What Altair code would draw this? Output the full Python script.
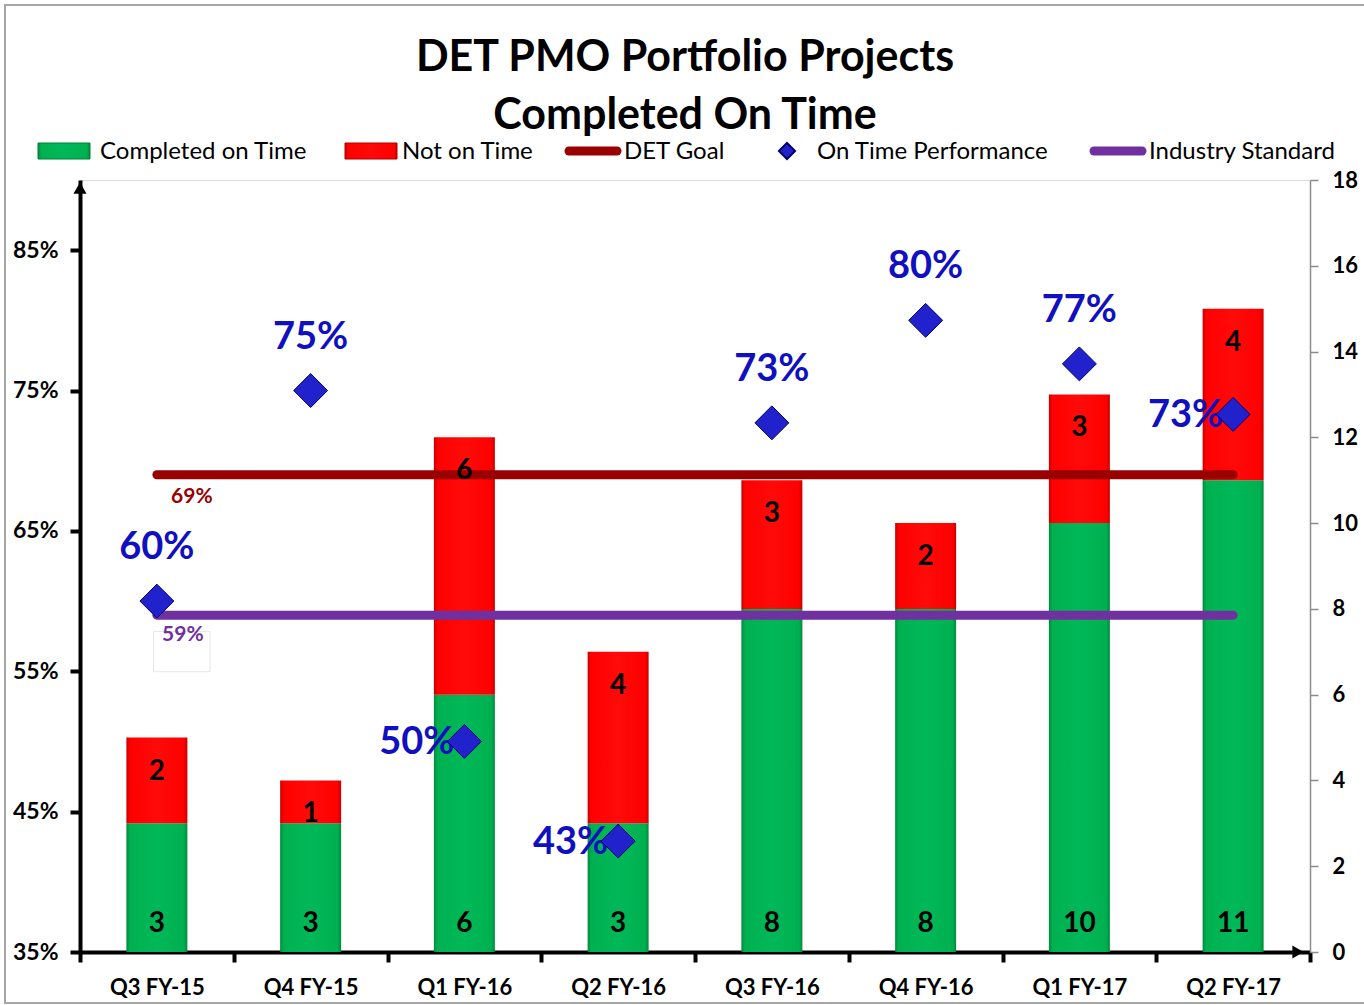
import altair as alt
import pandas as pd

# ---------------- data ----------------
quarters = ["Q3 FY-15", "Q4 FY-15", "Q1 FY-16", "Q2 FY-16",
            "Q3 FY-16", "Q4 FY-16", "Q1 FY-17", "Q2 FY-17"]
completed = [3, 3, 6, 3, 8, 8, 10, 11]
not_on_time = [2, 1, 6, 4, 3, 2, 3, 4]
performance = [0.60, 0.75, 0.50, 0.429, 0.727, 0.80, 0.769, 0.733]
perf_labels = ["60%", "75%", "50%", "43%", "73%", "80%", "77%", "73%"]
det_goal = 0.69
industry_standard = 0.59
left_labelled = ["Q1 FY-16", "Q2 FY-16", "Q2 FY-17"]
title_lines = ["DET PMO Portfolio Projects", "Completed On Time"]

bars_df = pd.DataFrame({"quarter": quarters, "completed": completed,
                        "not_on_time": not_on_time})
bars_df["total"] = bars_df["completed"] + bars_df["not_on_time"]
bars_df["base"] = 0
perf_df = pd.DataFrame({"quarter": quarters, "perf": performance, "label": perf_labels})
goal_df = pd.DataFrame({"quarter": [quarters[0], quarters[-1]], "v": [det_goal, det_goal]})
std_df = pd.DataFrame({"quarter": [quarters[0], quarters[-1]],
                       "v": [industry_standard, industry_standard]})

FONT = "Lato"
W, H = 1230, 772

x_axis = alt.Axis(title=None, labelAngle=0, labelFont=FONT, labelFontSize=22,
                  labelFontWeight="bold", labelColor="black", domainColor="black",
                  domainWidth=4, tickColor="black", tickWidth=4, tickSize=10,
                  tickBand="extent", labelPadding=15, grid=False)
x_enc = alt.X("quarter:N", sort=quarters,
              scale=alt.Scale(paddingInner=0, paddingOuter=0), axis=x_axis)


def cnt_scale():
    return alt.Scale(domain=[0, 18], nice=False, zero=True)


def pct_scale():
    return alt.Scale(domain=[0.35, 0.90], nice=False, zero=False)


right_axis = alt.Axis(orient="right", title=None, values=list(range(0, 19, 2)),
                      labelFont=FONT, labelFontSize=22, labelFontWeight="bold",
                      labelColor="black", domainColor="#8c8c8c", domainWidth=1.5,
                      tickColor="#8c8c8c", tickWidth=1.5, tickSize=8,
                      labelPadding=14, grid=False)
left_axis = alt.Axis(orient="left", title=None, format=".0%",
                     values=[0.35, 0.45, 0.55, 0.65, 0.75, 0.85],
                     labelFont=FONT, labelFontSize=23, labelFontWeight="bold",
                     labelColor="black", domainColor="black", domainWidth=4,
                     tickColor="black", tickWidth=4, tickSize=10,
                     labelPadding=12, grid=False)

green_grad = alt.Gradient(gradient="linear", x1=0, x2=1, y1=0, y2=0, stops=[
    alt.GradientStop(color="#008a3c", offset=0),
    alt.GradientStop(color="#00b050", offset=0.06),
    alt.GradientStop(color="#00b858", offset=0.5),
    alt.GradientStop(color="#00b050", offset=0.94),
    alt.GradientStop(color="#008a3c", offset=1)])
red_grad = alt.Gradient(gradient="linear", x1=0, x2=1, y1=0, y2=0, stops=[
    alt.GradientStop(color="#c80000", offset=0),
    alt.GradientStop(color="#ff0000", offset=0.06),
    alt.GradientStop(color="#ff0a0a", offset=0.5),
    alt.GradientStop(color="#ff0000", offset=0.94),
    alt.GradientStop(color="#c80000", offset=1)])

base_bars = alt.Chart(bars_df)
green_bars = base_bars.mark_bar(size=61, fill=green_grad).encode(
    x=x_enc,
    y=alt.Y("completed:Q", scale=cnt_scale(), axis=right_axis),
    y2="base:Q")
red_bars = base_bars.mark_bar(size=61, fill=red_grad).encode(
    x=x_enc,
    y=alt.Y("total:Q", scale=cnt_scale(), axis=None),
    y2="completed:Q")

green_text = base_bars.mark_text(font=FONT, fontSize=28, fontWeight="bold",
                                 color="black", baseline="middle", dy=-28).encode(
    x=x_enc, y=alt.Y("base:Q", scale=cnt_scale(), axis=None), text="completed:Q")
red_text = base_bars.mark_text(font=FONT, fontSize=28, fontWeight="bold",
                               color="black", baseline="middle", dy=34).encode(
    x=x_enc, y=alt.Y("total:Q", scale=cnt_scale(), axis=None), text="not_on_time:Q")

goal_line = alt.Chart(goal_df).mark_line(color="#990000", strokeWidth=9,
                                         strokeCap="round").encode(
    x=x_enc, y=alt.Y("v:Q", scale=pct_scale(), axis=left_axis))
std_line = alt.Chart(std_df).mark_line(color="#7030a0", strokeWidth=9,
                                       strokeCap="round").encode(
    x=x_enc, y=alt.Y("v:Q", scale=pct_scale(), axis=None))

goal_text = alt.Chart(goal_df.iloc[:1]).mark_text(
    font=FONT, fontSize=21, fontWeight="bold", color="#990000",
    align="center", baseline="middle", dx=35, dy=22).encode(
    x=x_enc, y=alt.Y("v:Q", scale=pct_scale(), axis=None), text=alt.value("69%"))
std_box = alt.Chart(std_df.iloc[:1]).mark_point(
    shape="M-0.12,0.58 L1.88,0.58 L1.88,2 L-0.12,2 Z", size=3200, filled=True,
    fill="white", stroke="#e8e8e8", strokeWidth=1, opacity=1).encode(
    x=x_enc, y=alt.Y("v:Q", scale=pct_scale(), axis=None))
std_text = alt.Chart(std_df.iloc[:1]).mark_text(
    font=FONT, fontSize=21, fontWeight="bold", color="#7030a0",
    align="center", baseline="middle", dx=26, dy=20).encode(
    x=x_enc, y=alt.Y("v:Q", scale=pct_scale(), axis=None), text=alt.value("59%"))

perf_base = alt.Chart(perf_df)
perf_above = perf_base.transform_filter(
    ~alt.FieldOneOfPredicate(field="quarter", oneOf=left_labelled)).mark_text(
    font=FONT, fontSize=38, fontWeight="bold", color="#1010c0",
    align="center", baseline="middle", dy=-53).encode(
    x=x_enc, y=alt.Y("perf:Q", scale=pct_scale(), axis=None), text="label:N")
perf_left = perf_base.transform_filter(
    alt.FieldOneOfPredicate(field="quarter", oneOf=left_labelled)).mark_text(
    font=FONT, fontSize=38, fontWeight="bold", color="#1010c0",
    align="right", baseline="middle", dx=-10, dy=2).encode(
    x=x_enc, y=alt.Y("perf:Q", scale=pct_scale(), axis=None), text="label:N")
diamonds = perf_base.mark_point(shape="diamond", size=1150, filled=True,
                                fill="#2222cc", stroke="#000070",
                                strokeWidth=1, opacity=1).encode(
    x=x_enc, y=alt.Y("perf:Q", scale=pct_scale(), axis=None))

# ---------------- decorations: frame, arrows, title, legend ----------------
one = alt.Data(values=[{}])
frame = alt.Chart(one).mark_rect(fillOpacity=0, stroke="#a6a6a6", strokeWidth=2).encode(
    x=alt.value(-75), x2=alt.value(1300), y=alt.value(-175), y2=alt.value(823))
up_arrow = alt.Chart(one).mark_point(shape="triangle-up", size=170, filled=True,
                                     color="black", opacity=1).encode(
    x=alt.value(0), y=alt.value(8))
right_arrow = alt.Chart(one).mark_point(shape="triangle-right", size=170, filled=True,
                                        color="black", opacity=1).encode(
    x=alt.value(1218), y=alt.value(H))


def title_text(label, ypos):
    return alt.Chart(one).mark_text(font=FONT, fontSize=43, fontWeight="bold",
                                    color="black", align="center",
                                    baseline="middle").encode(
        x=alt.value(605), y=alt.value(ypos), text=alt.value(label))


LY = -29
leg_green = alt.Chart(one).mark_rect(fill=green_grad, stroke="#00803a").encode(
    x=alt.value(-42), x2=alt.value(10), y=alt.value(LY - 8), y2=alt.value(LY + 8))
leg_red = alt.Chart(one).mark_rect(fill=red_grad, stroke="#b00000").encode(
    x=alt.value(265), x2=alt.value(317), y=alt.value(LY - 8), y2=alt.value(LY + 8))
leg_goal = alt.Chart(one).mark_rule(color="#990000", strokeWidth=9,
                                    strokeCap="round").encode(
    x=alt.value(489), x2=alt.value(537), y=alt.value(LY))
leg_std = alt.Chart(one).mark_rule(color="#7030a0", strokeWidth=9,
                                   strokeCap="round").encode(
    x=alt.value(1014), x2=alt.value(1062), y=alt.value(LY))
leg_dia = alt.Chart(one).mark_point(shape="diamond", size=260, filled=True,
                                    fill="#2222cc", stroke="#000070",
                                    opacity=1).encode(
    x=alt.value(707), y=alt.value(LY))


def leg_text(label, xpos):
    return alt.Chart(one).mark_text(font=FONT, fontSize=24, color="black",
                                    align="left", baseline="middle").encode(
        x=alt.value(xpos), y=alt.value(LY + 1), text=alt.value(label))


chart = alt.layer(
    frame,
    green_bars, red_bars,
    goal_line, std_line,
    green_text, red_text,
    goal_text, std_box, std_text,
    perf_above, perf_left, diamonds,
    up_arrow, right_arrow,
    title_text(title_lines[0], -122), title_text(title_lines[1], -64),
    leg_green, leg_text("Completed on Time", 20),
    leg_red, leg_text("Not on Time", 322),
    leg_goal, leg_text("DET Goal", 544),
    leg_dia, leg_text("On Time Performance", 737),
    leg_std, leg_text("Industry Standard", 1069),
).resolve_scale(
    y="independent"
).properties(
    width=W, height=H,
    autosize=alt.AutoSizeParams(type="none"),
    padding={"left": 80, "top": 180, "right": 54, "bottom": 53},
).configure_view(strokeWidth=0, stroke="transparent").configure(background="white")

chart.save("out.html", embed_options={"renderer": "svg", "actions": False})
